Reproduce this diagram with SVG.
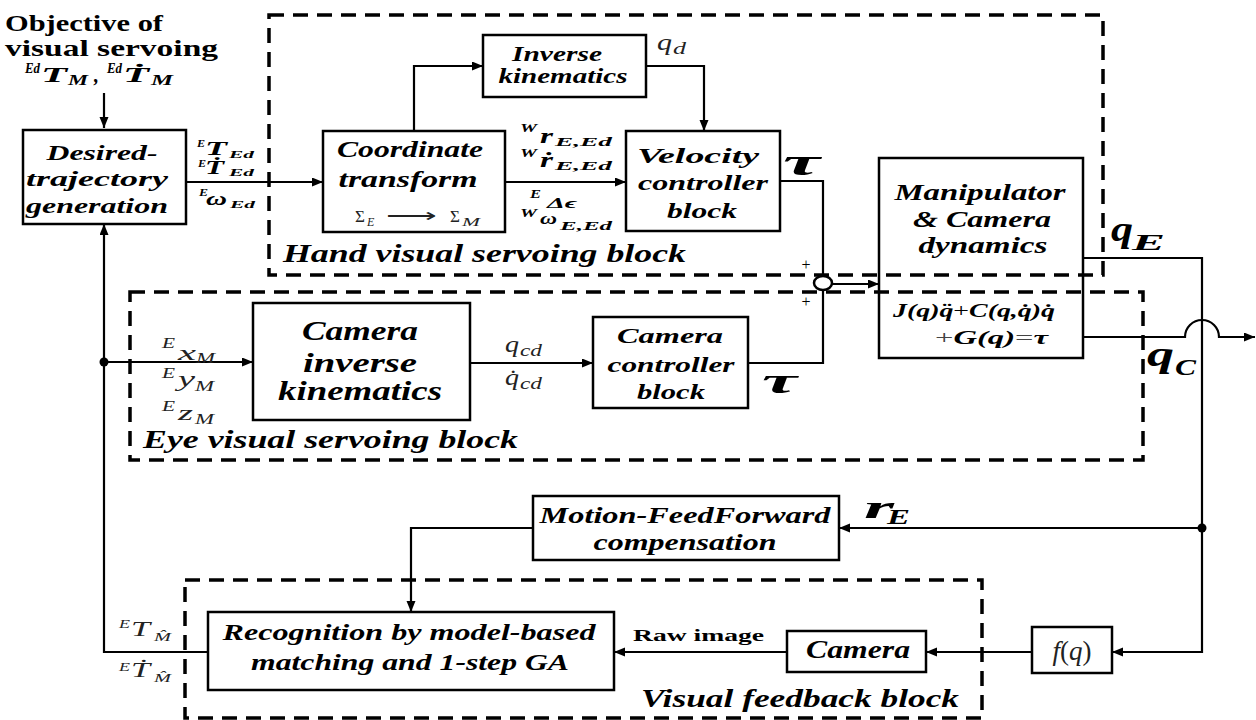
<svg xmlns="http://www.w3.org/2000/svg" width="1256" height="720" viewBox="0 0 1256 720">
<defs>
<marker id="ah" markerUnits="userSpaceOnUse" markerWidth="12" markerHeight="10" refX="11" refY="4.5" orient="auto">
<path d="M0,0 L11,4.5 L0,9 z" fill="#000"/>
</marker>
<style>
.box{fill:#fff;stroke:#000;stroke-width:2.5}
.dash{fill:none;stroke:#000;stroke-width:3.5;stroke-dasharray:15 9}
.ln{fill:none;stroke:#000;stroke-width:2.2}
.arr{fill:none;stroke:#000;stroke-width:2.2;marker-end:url(#ah)}
.blk{font-family:"Liberation Serif","DejaVu Serif",serif;font-weight:bold;font-style:italic;text-anchor:middle;fill:#000}
.ttl{font-family:"Liberation Serif","DejaVu Serif",serif;font-weight:bold;font-style:italic;font-size:26px;fill:#000}
.up{font-family:"Liberation Serif","DejaVu Serif",serif;font-weight:bold;fill:#000}
.mb{font-family:"Liberation Serif",serif;font-weight:bold;font-style:italic;fill:#000}
.mi{font-family:"Liberation Serif",serif;font-style:italic;fill:#222}
.mr{font-family:"Liberation Serif",serif;fill:#222}
</style>
</defs>
<rect width="1256" height="720" fill="#fff"/>

<g id="blocks">
<rect id="hand-block" class="dash" x="269" y="15" width="834" height="260"/>
<rect id="eye-block" class="dash" x="130" y="292" width="1013" height="168"/>
<rect id="vf-block" class="dash" x="185" y="580" width="797" height="138"/>
<text class="ttl" x="283" y="262" textLength="403" lengthAdjust="spacingAndGlyphs">Hand visual servoing block</text>
<text class="ttl" x="143" y="448" textLength="375" lengthAdjust="spacingAndGlyphs">Eye visual servoing block</text>
<text class="ttl" x="641" y="707" textLength="318" lengthAdjust="spacingAndGlyphs">Visual feedback block</text>
</g>

<g id="connectors">
<path class="arr" d="M104,93 V128"/>
<path class="arr" d="M186,182 H323"/>
<path class="arr" d="M414,131 V66 H483"/>
<path class="arr" d="M646,66 H704 V131"/>
<path class="arr" d="M505,182 H626"/>
<path class="ln" d="M780,181 H823 V276"/>
<path class="ln" d="M748,363 H823 V290"/>
<path class="arr" d="M832,284 H879"/>
<path class="arr" d="M1083,258 H1202 V652 H1112"/>
<path class="arr" d="M1083,337 H1185 A17,17 0 0 1 1219,337 H1255"/>
<path class="arr" d="M1202,528 H839"/>
<path class="arr" d="M533,528 H411 V612"/>
<path class="arr" d="M1032,652 H926"/>
<path class="arr" d="M787,652 H614"/>
<path class="arr" d="M208,652 H104 V224"/>
<path class="arr" d="M104,362 H253"/>
<path class="arr" d="M470,363 H593"/>
<circle cx="104" cy="362" r="4.5" fill="#000"/>
<circle cx="1202" cy="528" r="4.5" fill="#000"/>
</g>

<g id="objective">
<text class="up" x="5" y="31" font-size="24" textLength="158" lengthAdjust="spacingAndGlyphs">Objective of</text>
<text class="up" x="5" y="56" font-size="24" textLength="213" lengthAdjust="spacingAndGlyphs">visual servoing</text>
<text class="mb" x="25" y="73" font-size="14" textLength="15" lengthAdjust="spacingAndGlyphs">Ed</text>
<text class="mb" x="41" y="82" font-size="22" textLength="26" lengthAdjust="spacingAndGlyphs">T</text>
<text class="mb" x="68" y="85" font-size="15" textLength="20" lengthAdjust="spacingAndGlyphs">M</text>
<text class="mb" x="94" y="82" font-size="20">,</text>
<text class="mb" x="107" y="73" font-size="14" textLength="15" lengthAdjust="spacingAndGlyphs">Ed</text>
<text class="mb" x="123" y="82" font-size="22" textLength="26" lengthAdjust="spacingAndGlyphs">Ṫ</text>
<text class="mb" x="151" y="85" font-size="15" textLength="22" lengthAdjust="spacingAndGlyphs">M</text>
</g>

<g id="desired">
<rect class="box" x="23" y="130" width="163" height="94"/>
<text class="blk" x="102" y="160" font-size="22" textLength="111" lengthAdjust="spacingAndGlyphs">Desired-</text>
<text class="blk" x="97" y="186" font-size="22" textLength="142" lengthAdjust="spacingAndGlyphs">trajectory</text>
<text class="blk" x="97" y="213" font-size="22" textLength="142" lengthAdjust="spacingAndGlyphs">generation</text>
</g>

<g id="labels-desired-out">
<text class="mb" x="197" y="147" font-size="11" textLength="8" lengthAdjust="spacingAndGlyphs">E</text>
<text class="mb" x="205" y="155" font-size="18" textLength="22" lengthAdjust="spacingAndGlyphs">T</text>
<text class="mb" x="229" y="158" font-size="11" textLength="25" lengthAdjust="spacingAndGlyphs">Ed</text>
<text class="mb" x="198" y="167" font-size="11" textLength="8" lengthAdjust="spacingAndGlyphs">E</text>
<text class="mb" x="205" y="174" font-size="18" textLength="19" lengthAdjust="spacingAndGlyphs">Ṫ</text>
<text class="mb" x="229" y="176" font-size="11" textLength="25" lengthAdjust="spacingAndGlyphs">Ed</text>
<text class="mb" x="199" y="196" font-size="11" textLength="9" lengthAdjust="spacingAndGlyphs">E</text>
<text class="mb" x="206" y="205" font-size="18" textLength="21" lengthAdjust="spacingAndGlyphs">ω</text>
<text class="mb" x="230" y="208" font-size="11" textLength="25" lengthAdjust="spacingAndGlyphs">Ed</text>
</g>

<g id="coord">
<rect class="box" x="323" y="131" width="182" height="101"/>
<text class="blk" x="410" y="157" font-size="23" textLength="146" lengthAdjust="spacingAndGlyphs">Coordinate</text>
<text class="blk" x="408" y="187" font-size="23" textLength="139" lengthAdjust="spacingAndGlyphs">transform</text>
<text class="mr" x="355" y="222" font-size="17">Σ</text>
<text class="mi" x="367" y="226" font-size="12">E</text>
<text class="mr" x="386" y="222" font-size="17" textLength="50" lengthAdjust="spacingAndGlyphs">⟶</text>
<text class="mr" x="450" y="222" font-size="17">Σ</text>
<text class="mi" x="462" y="226" font-size="12" textLength="18" lengthAdjust="spacingAndGlyphs">M</text>
</g>

<g id="invkin">
<rect class="box" x="483" y="35" width="163" height="62"/>
<text class="blk" x="557" y="61" font-size="20" textLength="90" lengthAdjust="spacingAndGlyphs">Inverse</text>
<text class="blk" x="563" y="83" font-size="20" textLength="129" lengthAdjust="spacingAndGlyphs">kinematics</text>
</g>
<text class="mi" x="657" y="50" font-size="24" textLength="15" lengthAdjust="spacingAndGlyphs">q</text>
<text class="mi" x="673" y="54" font-size="17" textLength="13" lengthAdjust="spacingAndGlyphs">d</text>

<g id="labels-coord-out">
<text class="mb" x="520" y="132" font-size="13" textLength="17" lengthAdjust="spacingAndGlyphs">W</text>
<text class="mb" x="540" y="143" font-size="20" textLength="13" lengthAdjust="spacingAndGlyphs">r</text>
<text class="mb" x="555" y="146" font-size="13" textLength="57" lengthAdjust="spacingAndGlyphs">E,Ed</text>
<text class="mb" x="520" y="157" font-size="13" textLength="17" lengthAdjust="spacingAndGlyphs">W</text>
<text class="mb" x="540" y="167" font-size="20" textLength="13" lengthAdjust="spacingAndGlyphs">ṙ</text>
<text class="mb" x="555" y="170" font-size="13" textLength="57" lengthAdjust="spacingAndGlyphs">E,Ed</text>
<text class="mb" x="530" y="198" font-size="13" textLength="11" lengthAdjust="spacingAndGlyphs">E</text>
<text class="mb" x="547" y="208" font-size="14" textLength="30" lengthAdjust="spacingAndGlyphs">Δϵ</text>
<text class="mb" x="520" y="217" font-size="13" textLength="17" lengthAdjust="spacingAndGlyphs">W</text>
<text class="mb" x="540" y="224" font-size="16" textLength="17" lengthAdjust="spacingAndGlyphs">ω</text>
<text class="mb" x="560" y="230" font-size="13" textLength="52" lengthAdjust="spacingAndGlyphs">E,Ed</text>
</g>

<g id="velocity">
<rect class="box" x="626" y="131" width="154" height="100"/>
<text class="blk" x="698" y="163" font-size="22" textLength="122" lengthAdjust="spacingAndGlyphs">Velocity</text>
<text class="blk" x="703" y="190" font-size="22" textLength="130" lengthAdjust="spacingAndGlyphs">controller</text>
<text class="blk" x="702" y="218" font-size="22" textLength="70" lengthAdjust="spacingAndGlyphs">block</text>
</g>
<text class="mb" x="783" y="175" font-size="38" textLength="37" lengthAdjust="spacingAndGlyphs">τ</text>

<g id="cam-invkin">
<rect class="box" x="253" y="303" width="217" height="117"/>
<text class="blk" x="360" y="340" font-size="27" textLength="116" lengthAdjust="spacingAndGlyphs">Camera</text>
<text class="blk" x="360" y="372" font-size="27" textLength="114" lengthAdjust="spacingAndGlyphs">inverse</text>
<text class="blk" x="360" y="400" font-size="27" textLength="164" lengthAdjust="spacingAndGlyphs">kinematics</text>
</g>

<g id="labels-eye-in">
<text class="mi" x="162" y="348" font-size="14" textLength="13" lengthAdjust="spacingAndGlyphs">E</text>
<text class="mi" x="178" y="360" font-size="22" textLength="18" lengthAdjust="spacingAndGlyphs">x</text>
<text class="mi" x="196" y="363" font-size="15" textLength="19" lengthAdjust="spacingAndGlyphs">M</text>
<text class="mi" x="162" y="378" font-size="14" textLength="13" lengthAdjust="spacingAndGlyphs">E</text>
<text class="mi" x="178" y="386" font-size="22" textLength="17" lengthAdjust="spacingAndGlyphs">y</text>
<text class="mi" x="195" y="391" font-size="15" textLength="19" lengthAdjust="spacingAndGlyphs">M</text>
<text class="mi" x="162" y="411" font-size="14" textLength="13" lengthAdjust="spacingAndGlyphs">E</text>
<text class="mi" x="178" y="420" font-size="22" textLength="15" lengthAdjust="spacingAndGlyphs">z</text>
<text class="mi" x="195" y="424" font-size="15" textLength="19" lengthAdjust="spacingAndGlyphs">M</text>
</g>

<g id="labels-qcd">
<text class="mi" x="505" y="352" font-size="23" textLength="14" lengthAdjust="spacingAndGlyphs">q</text>
<text class="mi" x="520" y="356" font-size="16" textLength="22" lengthAdjust="spacingAndGlyphs">cd</text>
<text class="mi" x="505" y="385" font-size="23" textLength="14" lengthAdjust="spacingAndGlyphs">q̇</text>
<text class="mi" x="520" y="389" font-size="16" textLength="22" lengthAdjust="spacingAndGlyphs">cd</text>
</g>

<g id="cam-ctrl">
<rect class="box" x="593" y="317" width="155" height="91"/>
<text class="blk" x="670" y="343" font-size="22" textLength="106" lengthAdjust="spacingAndGlyphs">Camera</text>
<text class="blk" x="671" y="372" font-size="22" textLength="127" lengthAdjust="spacingAndGlyphs">controller</text>
<text class="blk" x="671" y="399" font-size="22" textLength="68" lengthAdjust="spacingAndGlyphs">block</text>
</g>
<text class="mb" x="762" y="393" font-size="36" textLength="35" lengthAdjust="spacingAndGlyphs">τ</text>

<g id="sum">
<ellipse cx="823" cy="283" rx="9" ry="7" fill="#fff" stroke="#000" stroke-width="2.5"/>
<text x="806" y="270" font-size="16" text-anchor="middle" font-family="Liberation Serif,serif" fill="#000">+</text>
<text x="806" y="307" font-size="16" text-anchor="middle" font-family="Liberation Serif,serif" fill="#000">+</text>
</g>

<g id="manipulator">
<rect x="879" y="158" width="204" height="200" fill="none" stroke="#000" stroke-width="2.5"/>
<text class="blk" x="980" y="200" font-size="24" textLength="171" lengthAdjust="spacingAndGlyphs">Manipulator</text>
<text class="blk" x="982" y="227" font-size="24" textLength="138" lengthAdjust="spacingAndGlyphs">&amp; Camera</text>
<text class="blk" x="983" y="253" font-size="24" textLength="129" lengthAdjust="spacingAndGlyphs">dynamics</text>
<text class="mb" x="893" y="317" font-size="18" textLength="162" lengthAdjust="spacingAndGlyphs">J(q)q̈<tspan font-weight="normal" font-style="normal">+</tspan>C(q,q̇)q̇</text>
<text class="mb" x="935" y="344" font-size="18" textLength="113" lengthAdjust="spacingAndGlyphs"><tspan font-weight="normal" font-style="normal" fill="#444">+</tspan>G(q)<tspan font-weight="normal" font-style="normal" fill="#444">=</tspan>τ</text>
</g>

<g id="labels-q">
<text class="mb" x="1111" y="241" font-size="36" textLength="22" lengthAdjust="spacingAndGlyphs">q</text>
<text class="mb" x="1132" y="250" font-size="24" textLength="33" lengthAdjust="spacingAndGlyphs">E</text>
<text class="mb" x="1147" y="366" font-size="36" textLength="27" lengthAdjust="spacingAndGlyphs">q</text>
<text class="mb" x="1175" y="375" font-size="24" textLength="21" lengthAdjust="spacingAndGlyphs">C</text>
</g>

<g id="mff">
<rect class="box" x="533" y="496" width="306" height="64"/>
<text class="blk" x="685" y="523" font-size="23" textLength="291" lengthAdjust="spacingAndGlyphs">Motion-FeedForward</text>
<text class="blk" x="685" y="550" font-size="23" textLength="183" lengthAdjust="spacingAndGlyphs">compensation</text>
</g>
<text class="mb" x="864" y="518" font-size="32" textLength="30" lengthAdjust="spacingAndGlyphs">r</text>
<text class="mb" x="887" y="524" font-size="20" textLength="23" lengthAdjust="spacingAndGlyphs">E</text>

<g id="recognition">
<rect class="box" x="208" y="612" width="406" height="78"/>
<text class="blk" x="409" y="640" font-size="23" textLength="373" lengthAdjust="spacingAndGlyphs">Recognition by model-based</text>
<text class="blk" x="410" y="670" font-size="23" textLength="318" lengthAdjust="spacingAndGlyphs">matching and 1-step GA</text>
</g>

<g id="labels-recog-out">
<text class="mi" x="119" y="628" font-size="13" textLength="11" lengthAdjust="spacingAndGlyphs">E</text>
<text class="mi" x="131" y="636" font-size="21" textLength="19" lengthAdjust="spacingAndGlyphs">T</text>
<text class="mi" x="154" y="641" font-size="13" textLength="17" lengthAdjust="spacingAndGlyphs">M̂</text>
<text class="mi" x="119" y="671" font-size="13" textLength="11" lengthAdjust="spacingAndGlyphs">E</text>
<text class="mi" x="131" y="677" font-size="21" textLength="19" lengthAdjust="spacingAndGlyphs">Ṫ</text>
<text class="mi" x="154" y="682" font-size="13" textLength="17" lengthAdjust="spacingAndGlyphs">M̂</text>
</g>

<text class="up" x="633" y="641" font-size="17" textLength="131" lengthAdjust="spacingAndGlyphs">Raw image</text>

<g id="camera">
<rect class="box" x="787" y="631" width="139" height="41"/>
<text class="blk" x="858" y="658" font-size="25" textLength="104" lengthAdjust="spacingAndGlyphs">Camera</text>
</g>

<g id="fq">
<rect class="box" x="1032" y="627" width="80" height="46"/>
<text class="mi" x="1072" y="660" font-size="27" text-anchor="middle">f<tspan font-style="normal">(</tspan>q<tspan font-style="normal">)</tspan></text>
</g>
</svg>
